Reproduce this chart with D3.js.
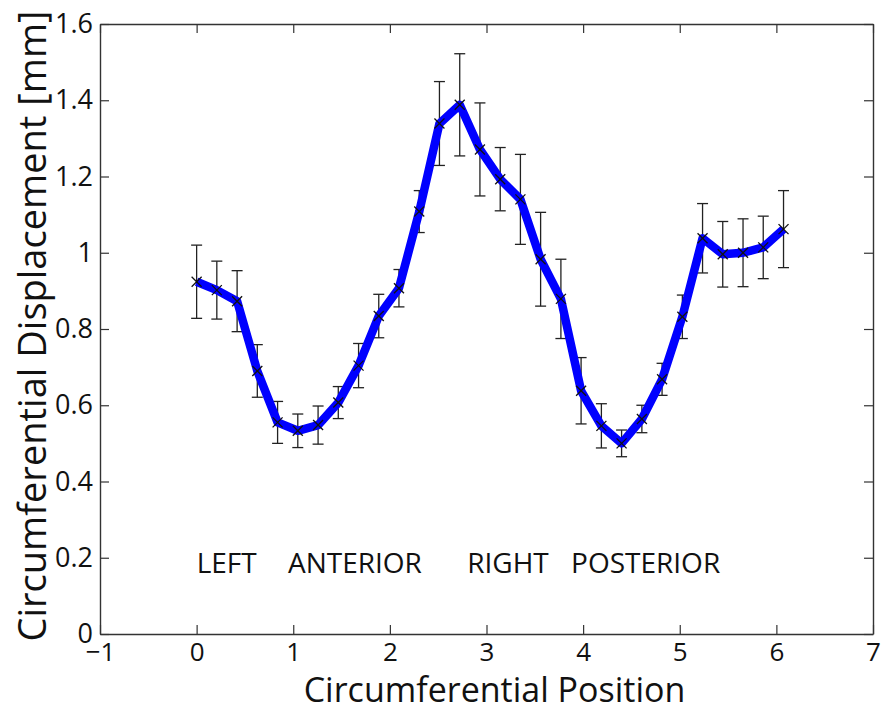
<!DOCTYPE html>
<html>
<head>
<meta charset="utf-8">
<script src="https://cdn.jsdelivr.net/npm/d3@7"></script>
<style>
  html, body { margin: 0; padding: 0; background: #fff; }
  svg { display: block; }
  text { font-family: "Open Sans", "Noto Sans", sans-serif; fill: #111; }
</style>
</head>
<body>
<svg id="chart" width="884" height="713"></svg>
<script>
// ---- data ----
const positions = [0, 0.209, 0.419, 0.628, 0.838, 1.047, 1.257, 1.466, 1.676, 1.885,
                   2.094, 2.304, 2.513, 2.723, 2.932, 3.142, 3.351, 3.560, 3.770, 3.979,
                   4.189, 4.398, 4.608, 4.817, 5.027, 5.236, 5.445, 5.655, 5.864, 6.074];
const displacement = [0.924, 0.902, 0.873, 0.690, 0.555, 0.533, 0.548, 0.607, 0.704, 0.834,
                      0.907, 1.108, 1.339, 1.388, 1.271, 1.193, 1.140, 0.983, 0.879, 0.638,
                      0.546, 0.500, 0.564, 0.668, 0.832, 1.038, 0.996, 1.000, 1.014, 1.062];
const errors = [0.096, 0.076, 0.080, 0.069, 0.055, 0.044, 0.050, 0.042, 0.058, 0.057,
                0.049, 0.055, 0.110, 0.134, 0.122, 0.083, 0.118, 0.123, 0.104, 0.087,
                0.058, 0.035, 0.036, 0.042, 0.057, 0.091, 0.086, 0.089, 0.082, 0.101];
const xTicks = [-1, 0, 1, 2, 3, 4, 5, 6, 7];
const yTicks = [0, 0.2, 0.4, 0.6, 0.8, 1, 1.2, 1.4, 1.6];
const annotations = [
  { label: "LEFT", x: 0 },
  { label: "ANTERIOR", x: 0.945 },
  { label: "RIGHT", x: 2.80 },
  { label: "POSTERIOR", x: 3.875 }
];
const annotationY = 0.16;
const xLabel = "Circumferential Position";
const yLabel = "Circumferential Displacement [mm]";

// ---- layout ----
const svg = d3.select("#chart");
const L = 100, R = 873, T = 24, B = 634;
const x = d3.scaleLinear().domain([-1, 7]).range([L, R]);
const y = d3.scaleLinear().domain([0, 1.6]).range([B, T]);
const axisColor = "#333";
const tickLen = 9;

const data = positions.map((p, i) => ({ x: p, y: displacement[i], e: errors[i] }));

// annotations
svg.append("g").selectAll("text").data(annotations).join("text")
  .attr("x", d => x(d.x))
  .attr("y", y(annotationY))
  .attr("font-size", 28)
  .text(d => d.label);

// error bars
const capW = 5.5;
const eb = svg.append("g").attr("stroke", "#222").attr("stroke-width", 1.3).attr("fill", "none");
data.forEach(d => {
  const cx = x(d.x), y0 = y(d.y - d.e), y1 = y(d.y + d.e);
  eb.append("line").attr("x1", cx).attr("x2", cx).attr("y1", y0).attr("y2", y1);
  eb.append("line").attr("x1", cx - capW).attr("x2", cx + capW).attr("y1", y0).attr("y2", y0);
  eb.append("line").attr("x1", cx - capW).attr("x2", cx + capW).attr("y1", y1).attr("y2", y1);
});

// line
svg.append("path").datum(data)
  .attr("fill", "none")
  .attr("stroke", "#0000ff")
  .attr("stroke-width", 8.5)
  .attr("stroke-linejoin", "round")
  .attr("d", d3.line().x(d => x(d.x)).y(d => y(d.y)));

// x markers
const ms = 5;
const mk = svg.append("g").attr("stroke", "#111").attr("stroke-width", 1.3);
data.forEach(d => {
  const cx = x(d.x), cy = y(d.y);
  mk.append("line").attr("x1", cx - ms).attr("y1", cy - ms).attr("x2", cx + ms).attr("y2", cy + ms);
  mk.append("line").attr("x1", cx - ms).attr("y1", cy + ms).attr("x2", cx + ms).attr("y2", cy - ms);
});

// axes (box with inward ticks on all sides)
function styleAxis(g, size) {
  g.select(".domain").attr("stroke", axisColor).attr("stroke-width", 1.4);
  g.selectAll(".tick line").attr("stroke", axisColor).attr("stroke-width", 1.2);
  g.selectAll(".tick text").attr("font-size", size).attr("fill", "#111")
    .attr("font-family", "'Open Sans', 'Noto Sans', sans-serif");
}
const fmtX = d => d < 0 ? "\u2212" + Math.abs(d) : String(d);
const fmtY = d => String(+d.toFixed(1));

svg.append("g").attr("transform", `translate(0,${B})`)
  .call(d3.axisBottom(x).tickValues(xTicks).tickSizeInner(-tickLen).tickSizeOuter(0).tickPadding(9).tickFormat(fmtX))
  .call(styleAxis, 26);
svg.append("g").attr("transform", `translate(0,${T})`)
  .call(d3.axisTop(x).tickValues(xTicks).tickSizeInner(-tickLen).tickSizeOuter(0).tickFormat(""))
  .call(styleAxis, 26);
svg.append("g").attr("transform", `translate(${L},0)`)
  .call(d3.axisLeft(y).tickValues(yTicks).tickSizeInner(-tickLen).tickSizeOuter(0).tickPadding(7).tickFormat(fmtY))
  .call(styleAxis, 27);
svg.append("g").attr("transform", `translate(${R},0)`)
  .call(d3.axisRight(y).tickValues(yTicks).tickSizeInner(-tickLen).tickSizeOuter(0).tickFormat(""))
  .call(styleAxis, 27);

// axis titles
svg.append("text")
  .attr("x", (L + R) / 2 + 8)
  .attr("y", 702)
  .attr("text-anchor", "middle")
  .attr("font-size", 34)
  .text(xLabel);

svg.append("text")
  .attr("transform", `translate(46,${326}) rotate(-90)`)
  .attr("text-anchor", "middle")
  .attr("font-size", 38)
  .text(yLabel);
</script>
</body>
</html>
